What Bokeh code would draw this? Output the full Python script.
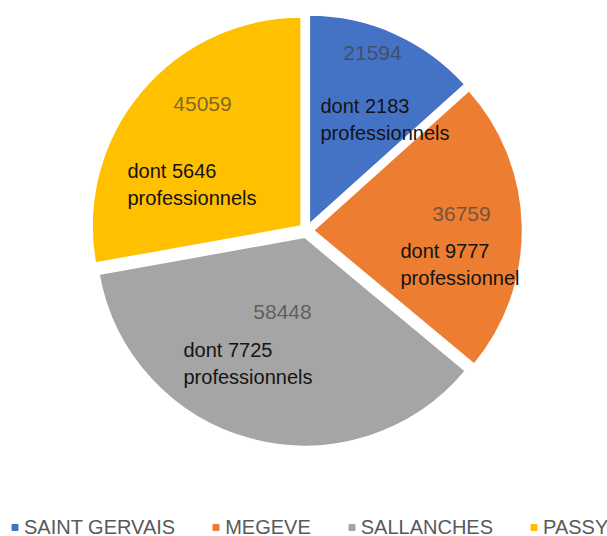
import numpy as np
from bokeh.plotting import figure
from bokeh.models import Range1d, ColumnDataSource, Legend, LegendItem
from bokeh.core.properties import value
from bokeh.embed import file_html
from bokeh.resources import INLINE

# ---- data ----
communes = ["SAINT GERVAIS", "MEGEVE", "SALLANCHES", "PASSY"]
habitants = [21594, 36759, 58448, 45059]
professionnels = [2183, 9777, 7725, 5646]
suffixes = ["professionnels", "professionnel", "professionnels", "professionnels"]
colors = ["#4472C4", "#ED7D31", "#A5A5A5", "#FFC000"]

# ---- layout (pixel coordinates, y downwards) ----
W, H = 607, 536
CX, CY, R, EXPLODE = 306, 230, 209, 7
value_pos = [(372, 52), (461, 213), (282, 311), (202, 103)]
note_pos = [(320, 119), (400, 264), (183, 363), (127, 184)]
FONT = "Liberation Sans"

frac = np.array(habitants, dtype=float) / sum(habitants)
cum = np.concatenate([[0.0], np.cumsum(frac)]) * 360.0
t0, t1 = cum[:-1], cum[1:]
mid = np.radians((t0 + t1) / 2)

pie = ColumnDataSource(dict(
    x=CX + EXPLODE * np.sin(mid),
    y=-CY + EXPLODE * np.cos(mid),
    start=np.radians(90 - t1),
    end=np.radians(90 - t0),
    color=colors,
    commune=communes,
))

p = figure(width=W, height=H, x_range=Range1d(0, W), y_range=Range1d(-H, 0),
           output_backend="svg", toolbar_location=None, min_border=0,
           x_axis_type=None, y_axis_type=None, outline_line_color=None)
p.background_fill_color = "white"
p.border_fill_color = "white"

p.wedge(x="x", y="y", radius=R, start_angle="start", end_angle="end",
        fill_color="color", line_color="white", line_width=1.5, source=pie)

vals = ColumnDataSource(dict(
    x=[q[0] for q in value_pos], y=[-q[1] for q in value_pos],
    text=[str(v) for v in habitants]))
p.text(x="x", y="y", text="text", source=vals, text_align="center", text_baseline="middle",
       text_font=value(FONT), text_font_size="21px", text_color="#404040", text_alpha=0.7)

notes = ColumnDataSource(dict(
    x=[q[0] for q in note_pos], y=[-q[1] for q in note_pos],
    text=[f"dont {n}\n{s}" for n, s in zip(professionnels, suffixes)]))
p.text(x="x", y="y", text="text", source=notes, text_align="left", text_baseline="middle",
       text_font=value(FONT), text_font_size="20px", text_color="#141414", text_line_height=1.2)

# legend markers (invisible points, only used for the legend)
leg_src = ColumnDataSource(dict(x=[np.nan] * 4, y=[np.nan] * 4, color=colors))
leg_r = p.scatter(x="x", y="y", marker="square", size=6, fill_color="color",
                  line_color="color", source=leg_src)
legend = Legend(items=[LegendItem(label=c, renderers=[leg_r], index=i) for i, c in enumerate(communes)],
                orientation="horizontal", location=(7, -3), padding=0, margin=0,
                spacing=33, glyph_width=15, glyph_height=24, label_height=24,
                label_standoff=2, label_text_font=FONT, label_text_font_size="20px",
                label_text_color="#595959", background_fill_alpha=0, border_line_alpha=0)
p.add_layout(legend)

open("out.html", "w").write(file_html(p, INLINE))
